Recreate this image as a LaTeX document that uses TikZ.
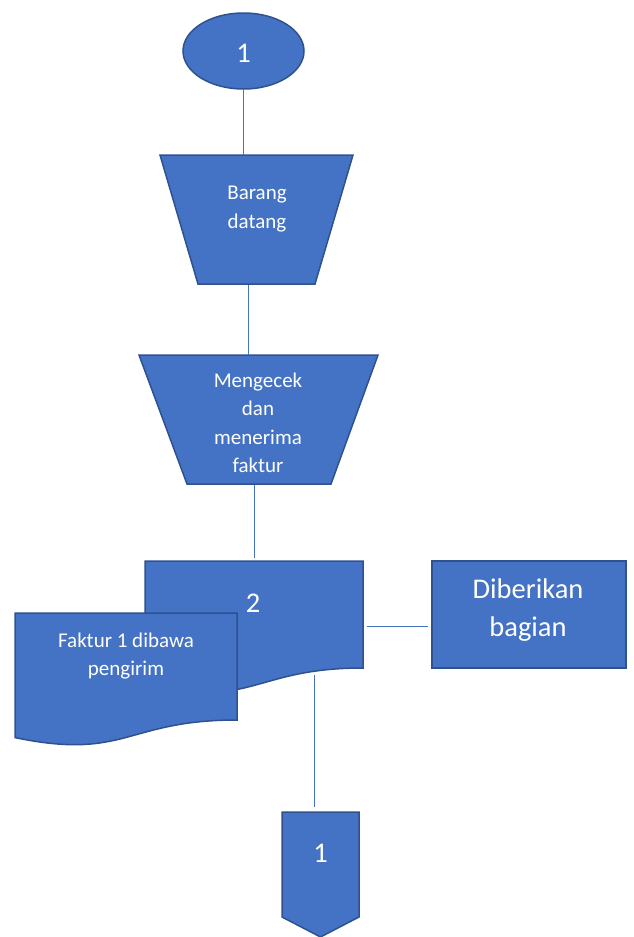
\documentclass[tikz,border=0pt]{standalone}
\usepackage{fontspec}
\setmainfont{Carlito}
\usetikzlibrary{shapes.geometric}
\definecolor{fillblue}{HTML}{4472C4}
\definecolor{edgeblue}{HTML}{2F528F}
\begin{document}
\begin{tikzpicture}[x=1pt,y=-1pt,
 shapebox/.style={fill=fillblue,draw=edgeblue,line width=1.5pt,line join=miter},
 conn/.style={draw=fillblue,line width=1pt},
 lbl/.style={text=white,align=center,inner sep=0pt,font=\fontsize{21}{28.5}\selectfont},
 biglbl/.style={text=white,align=center,inner sep=0pt,font=\fontsize{28.5}{38}\selectfont}]
\useasboundingbox (0,0) rectangle (633,937);
% start terminator
\node[ellipse,shapebox,minimum width=121,minimum height=76,inner sep=0pt] (start) at (243.5,51) {};
\node[biglbl] (startlbl) at (243.5,53) {1};
% trapezoid 1
\draw[shapebox] (160,155) -- (353,155) -- (315,284) -- (198,284) -- cycle;
\node[lbl] (barang) at (257,209) {Barang\\datang};
\coordinate (t1top) at (243.5,155);
\coordinate (t1bot) at (248,285);
% trapezoid 2
\draw[shapebox] (139,355) -- (378,355) -- (331,484) -- (187,484) -- cycle;
\node[lbl] (cek) at (258,423) {Mengecek\\dan\\menerima\\faktur};
\coordinate (t2top) at (248,355);
\coordinate (t2bot) at (254,485);
% document 2
\draw[shapebox] (145,561) -- (363,561) -- (363,668) .. controls (254,668) and (254,708.7) .. (145,685.6) -- cycle;
\node[biglbl] (doc2) at (253,603) {2};
\coordinate (d2top) at (254,558);
\coordinate (d2right) at (367,626);
\coordinate (d2bot) at (314,675);
% document faktur
\draw[shapebox] (15,613) -- (237,613) -- (237,720) .. controls (126,720) and (126,760.7) .. (15,737.6) -- cycle;
\node[lbl] (faktur) at (126,656) {Faktur 1 dibawa\\pengirim};
% rectangle
\draw[shapebox] (432,561) rectangle (626,668);
\node[biglbl] (beri) at (528,610) {Diberikan\\bagian};
\coordinate (rleft) at (428,626);
% off-page connector
\draw[shapebox] (282,812) -- (359,812) -- (359,917) -- (320.5,937) -- (282,917) -- cycle;
\node[biglbl] (end) at (320.5,853) {1};
\coordinate (etop) at (314,807);
% connectors
\draw[conn] (start.south) -- (t1top);
\draw[conn] (t1bot) -- (t2top);
\draw[conn] (t2bot) -- (d2top);
\draw[conn] (d2right) -- (rleft);
\draw[conn] (d2bot) -- (etop);
\end{tikzpicture}
\end{document}
